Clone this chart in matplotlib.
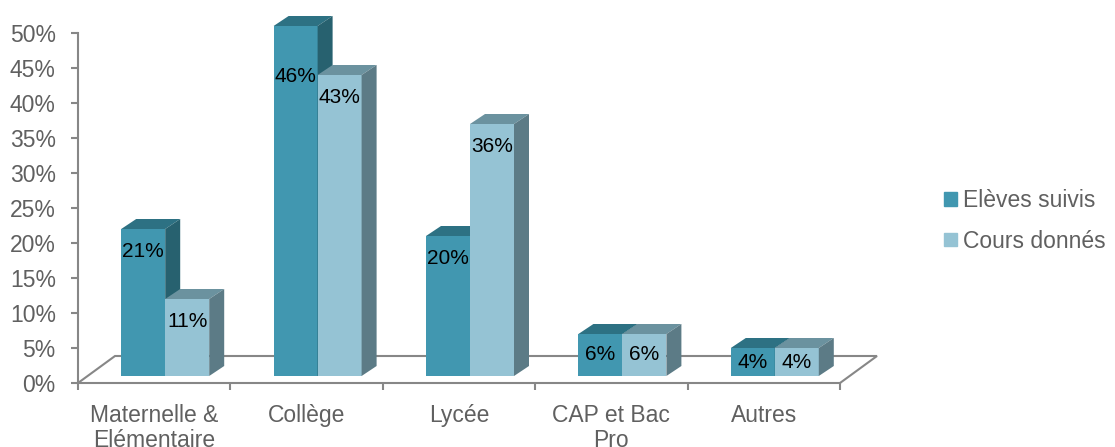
import matplotlib
matplotlib.use("Agg")
import matplotlib.pyplot as plt
from matplotlib.patches import Polygon, Patch
from matplotlib.ticker import FuncFormatter

plt.rcParams['font.family'] = ['Liberation Sans', 'DejaVu Sans']

categories = ["Maternelle &\nElémentaire", "Collège", "Lycée", "CAP et Bac\nPro", "Autres"]
series = ["Elèves suivis", "Cours donnés"]
eleves = [21, 46, 20, 6, 4]
cours = [11, 43, 36, 6, 4]
# the Collège bar is drawn taller than its label in the source chart
eleves_drawn = [21, 50, 20, 6, 4]
cours_drawn = cours

front = ["#4197b0", "#95c3d4"]
top = ["#2d7183", "#6b929f"]
side = ["#27616f", "#5c7b86"]
gray = "#878787"
txt = "#606060"

W, H = 1115, 447
fig = plt.figure(figsize=(W / 100, H / 100), dpi=100)
# axes box = front plane of the 3d floor (px 78..840, 383..33)
ax = fig.add_axes([78 / W, (H - 383) / H, 762 / W, 350 / H])
ax.set_xlim(0, 5)
ax.set_ylim(0, 50)

px_x = 5 / 762.0
px_y = 50 / 350.0
floor_dx, floor_dy = 37 * px_x, 27 * px_y    # floor depth
base_dx, base_dy = 11 * px_x, 7 * px_y       # bars sit mid-depth
bar_dx, bar_dy = 15 * px_x, 10 * px_y        # bar depth
bw = 44 * px_x


def box(x0, h, i, z):
    b = ax.bar(x0, h, bw, bottom=base_dy, align='edge', color=front[i],
               linewidth=0, zorder=z, clip_on=False)[0]
    y1 = base_dy + h
    ax.add_patch(Polygon([(x0, y1), (x0 + bw, y1), (x0 + bw + bar_dx, y1 + bar_dy),
                          (x0 + bar_dx, y1 + bar_dy)], closed=True, color=top[i],
                         lw=0, zorder=z, clip_on=False))
    ax.add_patch(Polygon([(x0 + bw, base_dy), (x0 + bw + bar_dx, base_dy + bar_dy),
                          (x0 + bw + bar_dx, y1 + bar_dy), (x0 + bw, y1)], closed=True,
                         color=side[i], lw=0, zorder=z, clip_on=False))
    return b


# floor
n = len(categories)
ax.plot([0, floor_dx, n + floor_dx, n], [0, floor_dy, floor_dy, 0], color=gray,
        lw=1.5, zorder=1, clip_on=False, solid_joinstyle='miter')

for k in range(n):
    c = k + 0.5 + base_dx
    z = 3 + 2 * k
    box(c - bw, eleves_drawn[k], 0, z)
    box(c, cours_drawn[k], 1, z + 1)
    for i, (vals, x) in enumerate([(eleves, c - bw / 2), (cours, c + bw / 2)]):
        v = vals[k]
        ly = base_dy + max(v - 3.2, v / 2)
        ax.text(x, ly, "%d%%" % v, ha='center', va='center', fontsize=15,
                color='black', zorder=50)

for s in ["top", "right"]:
    ax.spines[s].set_visible(False)
for s in ["left", "bottom"]:
    ax.spines[s].set_color(gray)
    ax.spines[s].set_linewidth(1.5)
    ax.spines[s].set_zorder(2)

ax.set_yticks(range(0, 51, 5))
ax.yaxis.set_major_formatter(FuncFormatter(lambda v, p: "%d%%" % v))
ax.tick_params(axis='y', length=5, width=1.5, color=gray, pad=11,
               labelsize=16.5, labelcolor=txt)
ax.set_xticks(range(0, n + 1))
ax.set_xticklabels([])
ax.set_xticks([k + 0.5 for k in range(n)], minor=True)
ax.set_xticklabels(categories, minor=True, fontsize=16.5, color=txt, linespacing=1.1)
ax.tick_params(axis='x', which='major', length=5, width=1.5, color=gray)
ax.tick_params(axis='x', which='minor', length=0, pad=15)

handles = [Patch(color=front[0], label=series[0]), Patch(color=front[1], label=series[1])]
fig.legend(handles=handles, loc='center left', bbox_to_anchor=(944 / W, 1 - 221 / H),
           frameon=False, fontsize=16.5, labelcolor=txt, handlelength=0.55,
           handleheight=0.55, handletextpad=0.3, labelspacing=0.75, borderpad=0,
           borderaxespad=0)

fig.savefig("out.png", dpi=100)
